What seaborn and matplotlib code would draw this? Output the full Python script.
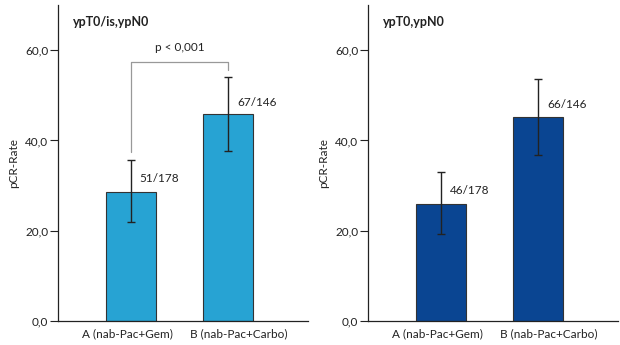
import matplotlib
matplotlib.use("Agg")
import matplotlib.pyplot as plt
import matplotlib.transforms as mtransforms
import seaborn as sns
import pandas as pd
import numpy as np

categories = ["A (nab-Pac+Gem)", "B (nab-Pac+Carbo)"]
left_values = [28.65, 45.9]
left_ci_low = [21.9, 37.6]
left_ci_high = [35.7, 54.0]
left_labels = ["51/178", "67/146"]
right_values = [25.85, 45.2]
right_ci_low = [19.3, 36.8]
right_ci_high = [33.0, 53.6]
right_labels = ["46/178", "66/146"]
titles = ["ypT0/is,ypN0", "ypT0,ypN0"]
colors = ["#27a3d3", "#0a4592"]
yticks = [0, 20, 40, 60]
ytick_labels = ["0,0", "20,0", "40,0", "60,0"]
p_text = "p < 0,001"

sns.set_theme(style="ticks")
plt.rcParams["font.family"] = ["Lato", "DejaVu Sans"]

fig = plt.figure(figsize=(6.2, 3.45), dpi=100)
ax1 = fig.add_axes([58/620, 24/345, 250/620, 316/345])
ax2 = fig.add_axes([368/620, 24/345, 250/620, 316/345])

panels = [
    (ax1, left_values, left_ci_low, left_ci_high, left_labels, titles[0], colors[0]),
    (ax2, right_values, right_ci_low, right_ci_high, right_labels, titles[1], colors[1]),
]

FS = 8.5
for ax, vals, lo, hi, labs, title, col in panels:
    df = pd.DataFrame({"group": categories, "rate": vals})
    sns.barplot(data=df, x="group", y="rate", ax=ax, color=col, width=0.51,
                edgecolor="#333333", linewidth=0.8, saturation=1)
    x = np.arange(len(vals))
    yerr = np.array([np.array(vals) - np.array(lo), np.array(hi) - np.array(vals)])
    ax.errorbar(x, vals, yerr=yerr, fmt="none", ecolor="#222222", elinewidth=1.0,
                capsize=3, capthick=1.0)
    for xi, h, lab in zip(x, hi, labs):
        ax.text(xi + 0.09, h - 4.2 if xi == 0 else h - 5.6, lab, ha="left", va="center",
                fontsize=FS, color="#222222")
    ax.set_xlim(-0.75, 1.82)
    ax.set_ylim(0, 70)
    ax.set_yticks(yticks)
    ax.set_yticklabels(ytick_labels)
    ax.set_xlabel("")
    ax.set_ylabel("pCR-Rate", fontsize=FS, color="#222222", labelpad=4)
    ax.tick_params(axis="both", labelsize=FS, colors="#222222", width=0.8, direction="out")
    ax.tick_params(axis="y", length=6, pad=1)
    ax.tick_params(axis="x", length=0, pad=5)
    for s in ["top", "right"]:
        ax.spines[s].set_visible(False)
    for s in ["left", "bottom"]:
        ax.spines[s].set_color("#222222")
        ax.spines[s].set_linewidth(0.9)
    ax.text(-0.6, 66.2, title, fontsize=9, fontweight="bold",
            ha="left", va="center", color="#222222")
    shifts = [-4, 11]
    for lbl, dx in zip(ax.get_xticklabels(), shifts):
        lbl.set_transform(lbl.get_transform() + mtransforms.ScaledTranslation(dx / 100, 0, fig.dpi_scale_trans))

# significance bracket
ax1.plot([0, 0, 1, 1], [37.4, 57.3, 57.3, 55.6], color="#999999", lw=0.9)
ax1.text(0.5, 59.4, p_text, ha="center", va="bottom", fontsize=FS, color="#222222")

fig.savefig("out.png", dpi=100)
